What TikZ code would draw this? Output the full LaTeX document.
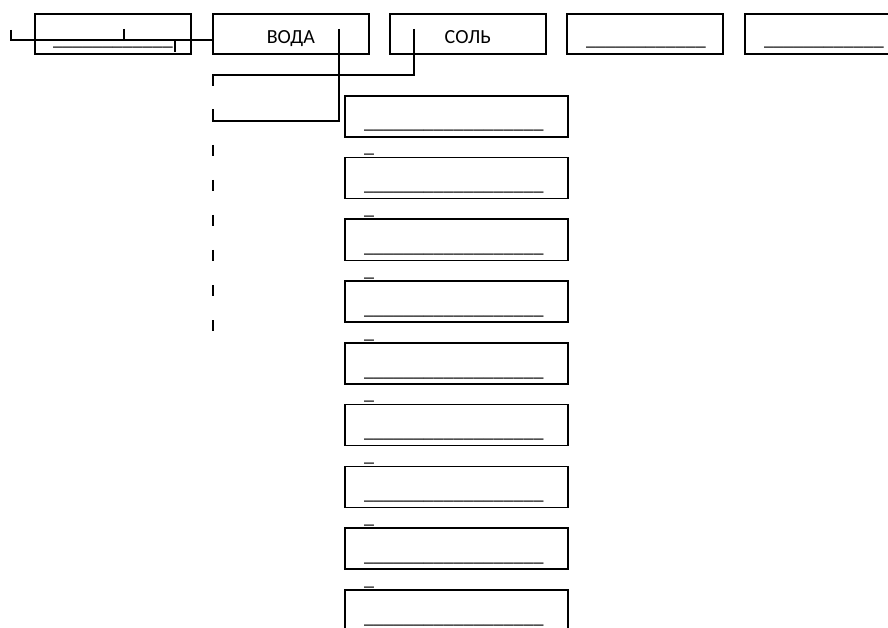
\documentclass[tikz,border=0pt]{standalone}
\usepackage{fontspec}
\setmainfont{Carlito}
\begin{document}
\begin{tikzpicture}[x=1pt,y=-1pt,
  box/.style={draw, line width=1.6pt, minimum width=156pt, minimum height=40pt, inner sep=0pt, anchor=north west, text height=20pt, text depth=0pt, font=\fontsize{20}{24}\selectfont},
  vbox/.style={draw, line width=1.6pt, minimum width=223pt, minimum height=41pt, inner sep=0pt, anchor=north west},
  uline/.style={anchor=base west, inner sep=0pt, font=\fontsize{20}{24}\selectfont},
  conn/.style={line width=1.3pt}]
\useasboundingbox (0,0) rectangle (888,628);
% top row
\node[box] (t1) at (34,13) {};
\node[box] (voda) at (212,13) {ВОДА};
\node[box] (sol) at (389,13) {СОЛЬ};
\node[box] (t4) at (566,13) {};
\node[box] (t5) at (744,13) {};
\node[uline] (u1) at (53,46) {\_\_\_\_\_\_\_\_\_\_\_\_};
\node[uline] (u4) at (586,46) {\_\_\_\_\_\_\_\_\_\_\_\_};
\node[uline] (u5) at (764,46) {\_\_\_\_\_\_\_\_\_\_\_\_};
% vertical column
\foreach \i in {1,...,9}{
  \pgfmathsetmacro{\top}{95+61.75*(\i-1)}
  \node[vbox] (v\i) at (344,\top) {};
  \node[uline] (vu\i) at (364,\top+34) {\_\_\_\_\_\_\_\_\_\_\_\_\_\_\_\_\_\_};
  \ifnum\i>1
    \node[uline] (vd\i) at (364,\top-4) {\_};
  \fi
}
% connectors
\coordinate (a1) at (11,30); \coordinate (a2) at (11,40);
\coordinate (a3) at (213,40); \coordinate (a4) at (213,29);
\draw[conn] (a1) -- (a2) -- (a3) -- (a4);
\coordinate (k1) at (124,29); \coordinate (k2) at (124,40);
\draw[conn] (k1) -- (k2);
\coordinate (m1) at (175,41); \coordinate (m2) at (175,52);
\draw[conn] (m1) -- (m2);
\coordinate (b1) at (339,29); \coordinate (b2) at (339,121);
\coordinate (b3) at (213,121); \coordinate (b4) at (213,109);
\draw[conn] (b1) -- (b2) -- (b3) -- (b4);
\coordinate (c1) at (414,29); \coordinate (c2) at (414,75);
\coordinate (c3) at (213,75); \coordinate (c4) at (213,86);
\draw[conn] (c1) -- (c2) -- (c3) -- (c4);
\foreach \j in {0,...,5}{
  \coordinate (d\j a) at (213,145+35*\j);
  \coordinate (d\j b) at (213,156+35*\j);
  \draw[conn] (d\j a) -- (d\j b);
}
\end{tikzpicture}
\end{document}
